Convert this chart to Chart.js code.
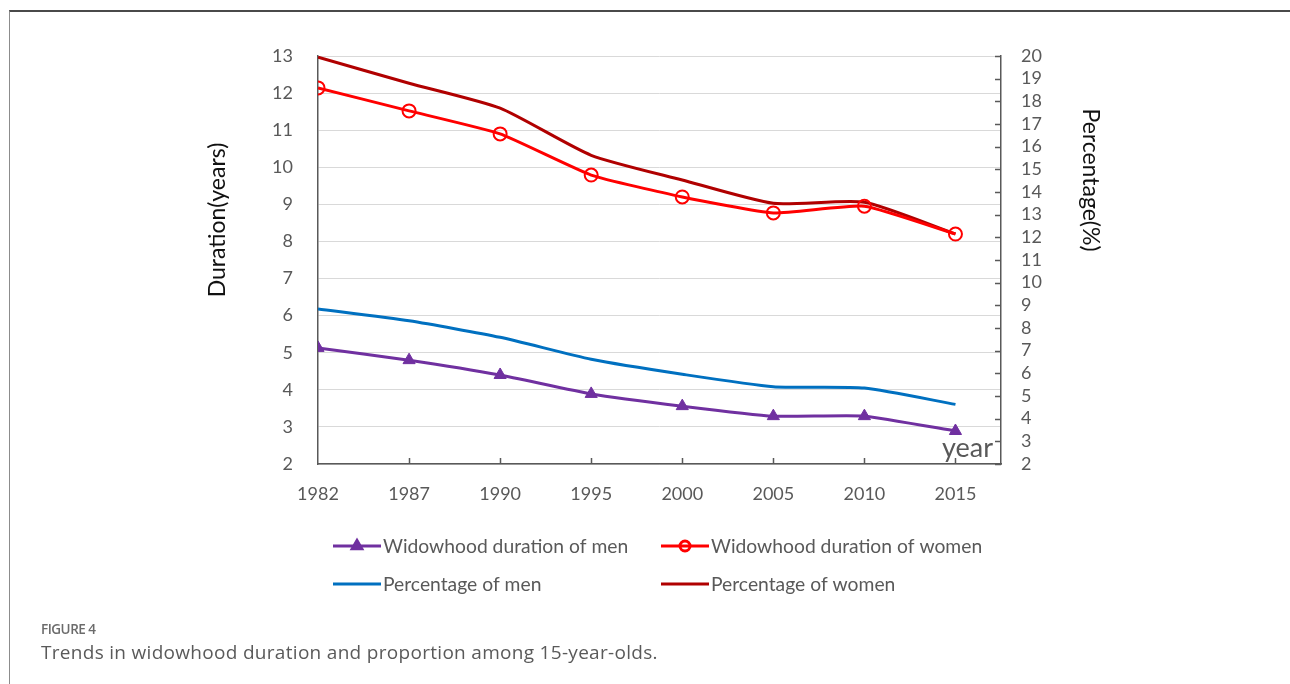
<!DOCTYPE html>
<html>
<head>
<meta charset="utf-8">
<script src="https://cdn.jsdelivr.net/npm/chart.js@4.4.1/dist/chart.umd.min.js"></script>
<style>
  html, body { margin: 0; padding: 0; background: #fff; }
  body { width: 1290px; height: 684px; position: relative; overflow: hidden; }
  #frame { position: absolute; left: 9px; top: 10px; right: -4px; bottom: -4px;
           border-top: 2px solid #4a4a4a; border-left: 1.5px solid #8c8c8c; }
  canvas { position: absolute; left: 0; top: 0; }
  #figno { position: absolute; left: 41px; top: 620px; font: 600 13.5px 'Open Sans', sans-serif; letter-spacing: -0.5px; color: #6b6b6b; }
  #caption { position: absolute; left: 41px; top: 639px; font: 19px 'Open Sans', sans-serif; letter-spacing: 0.3px; color: #5a5a5a; }
</style>
</head>
<body>
<div id="frame"></div>
<canvas id="chart" width="1290" height="684"></canvas>
<div id="figno">FIGURE 4</div>
<div id="caption">Trends in widowhood duration and proportion among 15-year-olds.</div>
<script>
// Census years on the horizontal axis
const years = ['1982', '1987', '1990', '1995', '2000', '2005', '2010', '2015'];

// Widowhood duration (years) – left axis
const durationMen   = [5.13, 4.80, 4.40, 3.89, 3.56, 3.29, 3.29, 2.89];
const durationWomen = [12.14, 11.52, 10.90, 9.79, 9.20, 8.77, 8.95, 8.20];

// Share of widowed people (%) – right axis
const percentMen   = [8.84, 8.32, 7.59, 6.62, 5.96, 5.41, 5.35, 4.63];
const percentWomen = [19.95, 18.80, 17.70, 15.62, 14.53, 13.50, 13.55, 12.15];

// Axis ranges
const durationRange = [2, 13];
const percentRange  = [2, 20];

const labelColor = '#595959';
const axisColor  = '#595959';
const tickFont   = { family: 'Lato', size: 18 };

const toPoints = arr => arr.map((v, i) => ({ x: i, y: v }));

// Axis titles, "year" marker, inward tick marks and the two-column legend
const decorations = {
  id: 'decorations',
  afterDraw(chart) {
    const { ctx, chartArea: a, scales } = chart;
    ctx.save();

    // inward tick marks on the bottom and right axes
    ctx.strokeStyle = axisColor;
    ctx.lineWidth = 1.5;
    ctx.beginPath();
    for (let i = 1; i < years.length; i++) {
      const x = Math.round(scales.x.getPixelForValue(i)) + 0.5;
      ctx.moveTo(x, a.bottom);
      ctx.lineTo(x, a.bottom - 6);
    }
    scales.y1.ticks.forEach(t => {
      const y = Math.round(scales.y1.getPixelForValue(t.value)) + 0.5;
      ctx.moveTo(a.right, y);
      ctx.lineTo(a.right - 6, y);
    });
    ctx.stroke();

    // axis titles
    ctx.fillStyle = '#111';
    ctx.font = '23px Lato';
    ctx.textAlign = 'center';
    ctx.textBaseline = 'middle';
    ctx.save();
    ctx.translate(a.left - 100, a.top + 164);
    ctx.rotate(-Math.PI / 2);
    ctx.fillText('Duration(years)', 0, 0);
    ctx.restore();
    ctx.save();
    ctx.translate(a.right + 89, a.top + 124);
    ctx.rotate(Math.PI / 2);
    ctx.fillText('Percentage(%)', 0, 0);
    ctx.restore();

    // "year" label inside the plot corner
    ctx.fillStyle = labelColor;
    ctx.font = '27px Lato';
    ctx.textAlign = 'right';
    ctx.textBaseline = 'alphabetic';
    ctx.fillText('year', a.right - 8, a.bottom - 7);

    // legend: two columns, two rows
    const colX = [a.left + 15, a.left + 343];
    const rowY = [a.bottom + 82, a.bottom + 120];
    ctx.font = '19.3px Lato';
    ctx.textBaseline = 'middle';
    ctx.textAlign = 'left';
    chart.data.datasets.forEach((ds, i) => {
      const x0 = colX[i % 2];
      const y0 = rowY[Math.floor(i / 2)];
      ctx.strokeStyle = ds.borderColor;
      ctx.lineWidth = 3;
      ctx.beginPath();
      ctx.moveTo(x0, y0);
      ctx.lineTo(x0 + 48, y0);
      ctx.stroke();
      if (ds.pointRadius > 0) {
        ctx.fillStyle = ds.pointBackgroundColor;
        ctx.strokeStyle = ds.pointBorderColor;
        Chart.helpers.drawPoint(ctx, {
          pointStyle: ds.pointStyle,
          radius: ds.pointRadius - 1.5,
          borderWidth: ds.pointBorderWidth,
          rotation: 0
        }, x0 + 24, y0);
        if (ds.pointStyle === 'triangle') ctx.fill();
      }
      ctx.fillStyle = labelColor;
      ctx.fillText(ds.label, x0 + 50, y0 + 1);
    });

    ctx.restore();
  }
};

new Chart(document.getElementById('chart'), {
  type: 'line',
  data: {
    datasets: [
      {
        label: 'Widowhood duration of men',
        data: toPoints(durationMen),
        yAxisID: 'y',
        borderColor: '#7030A0',
        borderWidth: 3,
        pointStyle: 'triangle',
        pointRadius: 7,
        pointBackgroundColor: '#7030A0',
        pointBorderColor: '#7030A0',
        pointBorderWidth: 1,
        tension: 0.15
      },
      {
        label: 'Widowhood duration of women',
        data: toPoints(durationWomen),
        yAxisID: 'y',
        borderColor: '#FF0000',
        borderWidth: 3,
        pointStyle: 'circle',
        pointRadius: 6.5,
        pointBackgroundColor: 'rgba(255,255,255,0)',
        pointBorderColor: '#FF0000',
        pointBorderWidth: 2,
        tension: 0.15
      },
      {
        label: 'Percentage of men',
        data: toPoints(percentMen),
        yAxisID: 'y1',
        borderColor: '#0070C0',
        borderWidth: 3,
        pointRadius: 0,
        tension: 0.2
      },
      {
        label: 'Percentage of women',
        data: toPoints(percentWomen),
        yAxisID: 'y1',
        borderColor: '#B00000',
        borderWidth: 3,
        pointRadius: 0,
        tension: 0.2
      }
    ]
  },
  options: {
    responsive: false,
    animation: false,
    devicePixelRatio: 1,
    layout: { padding: { left: 202, right: 184, top: 56, bottom: 160 } },
    plugins: { legend: { display: false }, tooltip: { enabled: false } },
    scales: {
      x: {
        type: 'linear',
        min: 0,
        max: years.length - 0.5,
        grid: { display: false, drawTicks: false },
        border: { display: true, color: axisColor, width: 1.5 },
        ticks: {
          stepSize: 1,
          includeBounds: false,
          autoSkip: false,
          maxRotation: 0,
          padding: 19,
          color: labelColor,
          font: tickFont,
          callback: v => years[v] ?? ''
        },
        afterFit: s => { s.height = 60; }
      },
      y: {
        position: 'left',
        min: durationRange[0],
        max: durationRange[1],
        grid: { color: '#d9d9d9', lineWidth: 1, drawTicks: false },
        border: { display: true, color: axisColor, width: 1.5 },
        ticks: { stepSize: 1, autoSkip: false, padding: 25, color: labelColor, font: tickFont },
        afterFit: s => { s.width = 116; }
      },
      y1: {
        position: 'right',
        min: percentRange[0],
        max: percentRange[1],
        grid: { drawOnChartArea: false, drawTicks: false },
        border: { display: true, color: axisColor, width: 1.5 },
        ticks: { stepSize: 1, autoSkip: false, padding: 20, color: labelColor, font: tickFont },
        afterFit: s => { s.width = 105; }
      }
    }
  },
  plugins: [decorations]
});
</script>
</body>
</html>
